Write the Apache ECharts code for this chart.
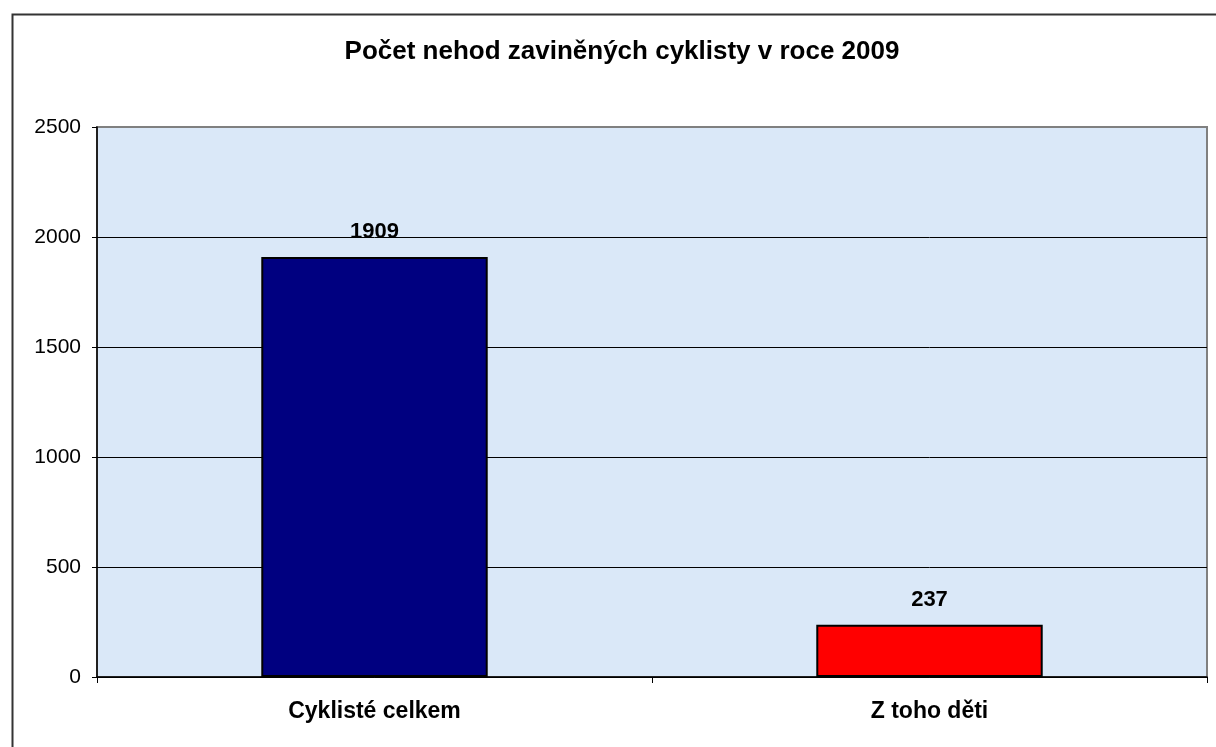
<!DOCTYPE html>
<html>
<head>
<meta charset="utf-8">
<script src="https://cdn.jsdelivr.net/npm/echarts@6/dist/echarts.min.js"></script>
<style>
html,body{margin:0;padding:0;background:#fff;}
#main{width:1216px;height:747px;}
</style>
</head>
<body>
<div id="main"></div>
<script>
const titleText = 'Počet nehod zaviněných cyklisty v roce 2009';
const categories = ['Cyklisté celkem', 'Z toho děti'];
const values = [1909, 237];
const barColors = ['#000080', '#ff0000'];
const yTicks = [0, 500, 1000, 1500, 2000, 2500];

const FONT = '"Liberation Sans", Arial, sans-serif';
const chart = echarts.init(document.getElementById('main'), null, {renderer: 'canvas'});
chart.setOption({
  animation: false,
  backgroundColor: '#ffffff',
  title: {
    text: titleText,
    left: 617, top: 34, textAlign: 'center',
    textStyle: {fontFamily: FONT, fontSize: 26, fontWeight: 'bold', color: '#000'}
  },
  graphic: [{
    type: 'rect', left: 10, top: 12, silent: true, z: 100,
    shape: {width: 1220, height: 760},
    style: {fill: 'none', stroke: '#333', lineWidth: 2}
  }],
  grid: {
    left: 97, right: 9, top: 127, bottom: 70,
    show: true, backgroundColor: '#dae8f8', borderColor: '#808080', borderWidth: 2
  },
  xAxis: {
    type: 'category', data: categories,
    axisLine: {show: true, lineStyle: {color: '#000', width: 1.5}},
    axisTick: {show: true, alignWithLabel: false, length: 6, lineStyle: {color: '#000'}},
    axisLabel: {margin: 23, fontFamily: FONT, fontSize: 23, fontWeight: 'bold', color: '#000'},
    splitLine: {show: false}
  },
  yAxis: {
    type: 'value', min: yTicks[0], max: yTicks[yTicks.length - 1], interval: 500,
    axisLine: {show: true, lineStyle: {color: '#000', width: 1.5}},
    axisTick: {show: true, length: 5, lineStyle: {color: '#000'}},
    axisLabel: {margin: 16, fontFamily: FONT, fontSize: 21, color: '#000', formatter: v => String(v)},
    splitLine: {show: true, showMaxLine: false, lineStyle: {color: '#000', width: 1}}
  },
  series: [{
    type: 'bar',
    barWidth: '40.8%',
    data: values.map((v, i) => ({value: v, itemStyle: {color: barColors[i]}})),
    itemStyle: {borderColor: '#000', borderWidth: 2},
    label: {show: true, position: 'top', distance: 14, fontFamily: FONT, fontSize: 22, fontWeight: 'bold', color: '#000'}
  }]
});
</script>
</body>
</html>
